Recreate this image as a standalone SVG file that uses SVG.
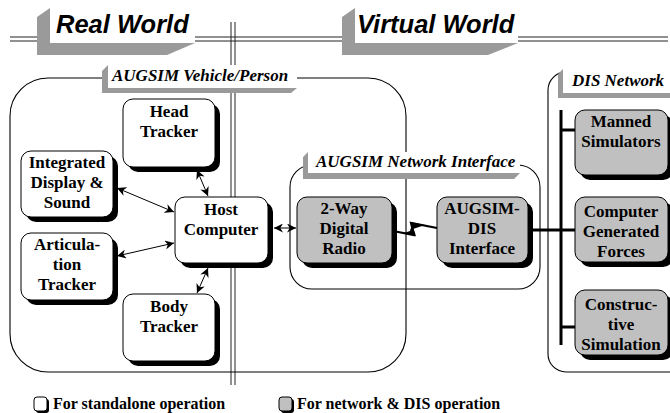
<svg xmlns="http://www.w3.org/2000/svg" width="670" height="413" viewBox="0 0 670 413">
<defs>
<style>
.ln{stroke:#222;stroke-width:1;fill:none}
.reg{stroke:#000;stroke-width:1.1;fill:none}
.ban{fill:#9a9a9a}
.banw{fill:#fff}
.h1{font-family:"Liberation Sans",Arial,sans-serif;font-weight:bold;font-style:italic;font-size:25.5px;fill:#000}
.lab{font-family:"Liberation Serif","Times New Roman",serif;font-weight:bold;font-style:italic;font-size:17px;fill:#000}
.bx{stroke:#000;stroke-width:1;fill:#fff}
.gx{stroke:#000;stroke-width:1;fill:#c0c0c0}
.sh{fill:#000}
.t{font-family:"Liberation Serif","Times New Roman",serif;font-weight:bold;font-size:17px;fill:#000;text-anchor:middle}
.lg{font-family:"Liberation Serif","Times New Roman",serif;font-weight:bold;font-size:16px;fill:#000}
.ar{stroke:#000;stroke-width:1;fill:none;marker-start:url(#ah);marker-end:url(#ah)}
.thick{stroke:#000;stroke-width:3;fill:none}
</style>
<marker id="ah" viewBox="0 0 10 10" refX="10" refY="5" markerWidth="9" markerHeight="9" markerUnits="userSpaceOnUse" orient="auto-start-reverse">
<path d="M0,0 L10,5 L0,10 L3,5 Z" fill="#000"/>
</marker>
</defs>

<g id="guides">
<line class="ln" x1="10" y1="37" x2="668" y2="37"/>
<line class="ln" x1="10" y1="41" x2="668" y2="41"/>
<line class="ln" x1="231" y1="22" x2="231" y2="385"/>
<line class="ln" x1="235" y1="22" x2="235" y2="385"/>
</g>

<g id="real-world">
<polygon class="ban" points="37,17 50,8 50,43 195,43 167,55 37,55"/>
<rect class="banw" x="50" y="8" width="145" height="35"/>
<text class="h1" x="56" y="33">Real World</text>
</g>
<g id="virtual-world">
<polygon class="ban" points="342,17 355,8 355,43 518,43 488,55 342,55"/>
<rect class="banw" x="355" y="8" width="163" height="35"/>
<text class="h1" x="357" y="33">Virtual World</text>
</g>

<g id="vehicle-region">
<rect class="reg" x="10" y="78" width="396" height="294" rx="38"/>
<polygon class="ban" points="102,71 108,65 108,88 297,88 291,93 102,93"/>
<rect class="banw" x="108" y="65" width="189" height="23"/>
<text class="lab" x="112" y="81">AUGSIM Vehicle/Person</text>
</g>

<g id="network-interface-region">
<rect class="reg" x="290" y="165" width="250" height="124" rx="22"/>
<polygon class="ban" points="303,157 308,152 308,173 520,173 514,179 303,179"/>
<rect class="banw" x="308" y="152" width="212" height="21"/>
<text class="lab" x="316" y="167">AUGSIM Network Interface</text>
</g>

<g id="dis-region">
<rect class="reg" x="548" y="72" width="140" height="300" rx="18"/>
<polygon class="ban" points="558,74 563,69 563,93 670,93 670,98 558,98"/>
<rect class="banw" x="563" y="69" width="107" height="24"/>
<text class="lab" x="572" y="86">DIS Network</text>
</g>

<g id="connectors">
<line class="ar" x1="197" y1="170" x2="208" y2="196"/>
<line class="ar" x1="117" y1="188" x2="174" y2="212"/>
<line class="ar" x1="117" y1="256" x2="174" y2="243"/>
<line class="ar" x1="197" y1="293" x2="208" y2="268"/>
<line class="ar" x1="274" y1="228" x2="296" y2="228"/>
<polyline points="393,231 414,235 411,223 437,228" stroke="#000" stroke-width="2.2" fill="none" stroke-linejoin="miter"/>
<polygon points="404,233 416,236 412,224 410,231" fill="#000"/>
<polygon points="410,222 425,225 413,229" fill="#000"/>
<line class="thick" x1="533" y1="230" x2="561" y2="230"/>
<line class="thick" x1="561" y1="110" x2="561" y2="345"/>
<line class="thick" x1="561" y1="130" x2="575" y2="130"/>
<line class="thick" x1="561" y1="230" x2="575" y2="230"/>
<line class="thick" x1="561" y1="327" x2="575" y2="327"/>
</g>

<g id="head-tracker">
<rect class="sh" x="128" y="104" width="92" height="68" rx="10"/>
<rect class="bx" x="123" y="99" width="92" height="68" rx="10"/>
<text class="t" x="169" y="117">Head</text>
<text class="t" x="169" y="137">Tracker</text>
</g>
<g id="integrated-display">
<rect class="sh" x="26" y="156" width="92" height="66" rx="10"/>
<rect class="bx" x="21" y="151" width="92" height="66" rx="10"/>
<text class="t" x="67" y="168">Integrated</text>
<text class="t" x="67" y="188">Display &amp;</text>
<text class="t" x="67" y="208">Sound</text>
</g>
<g id="host-computer">
<rect class="sh" x="180" y="202" width="93" height="66" rx="10"/>
<rect class="bx" x="175" y="197" width="93" height="66" rx="10"/>
<text class="t" x="221" y="215">Host</text>
<text class="t" x="221" y="235">Computer</text>
</g>
<g id="articulation-tracker">
<rect class="sh" x="26" y="238" width="92" height="67" rx="10"/>
<rect class="bx" x="21" y="233" width="92" height="67" rx="10"/>
<text class="t" x="67" y="250">Articula-</text>
<text class="t" x="67" y="270">tion</text>
<text class="t" x="67" y="290">Tracker</text>
</g>
<g id="body-tracker">
<rect class="sh" x="128" y="299" width="92" height="67" rx="10"/>
<rect class="bx" x="123" y="294" width="92" height="67" rx="10"/>
<text class="t" x="169" y="312">Body</text>
<text class="t" x="169" y="332">Tracker</text>
</g>
<g id="digital-radio">
<rect class="sh" x="302" y="202" width="95" height="66" rx="10"/>
<rect class="gx" x="297" y="197" width="95" height="66" rx="10"/>
<text class="t" x="344" y="214">2-Way</text>
<text class="t" x="344" y="234">Digital</text>
<text class="t" x="344" y="254">Radio</text>
</g>
<g id="augsim-dis">
<rect class="sh" x="442" y="202" width="91" height="66" rx="10"/>
<rect class="gx" x="437" y="197" width="91" height="66" rx="10"/>
<text class="t" x="482" y="214">AUGSIM-</text>
<text class="t" x="482" y="234">DIS</text>
<text class="t" x="482" y="254">Interface</text>
</g>
<g id="manned-simulators">
<rect class="sh" x="580" y="115" width="93" height="65" rx="10"/>
<rect class="gx" x="575" y="110" width="93" height="65" rx="10"/>
<text class="t" x="621" y="127">Manned</text>
<text class="t" x="621" y="147">Simulators</text>
</g>
<g id="cgf">
<rect class="sh" x="580" y="202" width="93" height="65" rx="10"/>
<rect class="gx" x="575" y="197" width="93" height="65" rx="10"/>
<text class="t" x="621" y="217">Computer</text>
<text class="t" x="621" y="237">Generated</text>
<text class="t" x="621" y="257">Forces</text>
</g>
<g id="constructive-simulation">
<rect class="sh" x="580" y="295" width="93" height="65" rx="10"/>
<rect class="gx" x="575" y="290" width="93" height="65" rx="10"/>
<text class="t" x="621" y="310">Construc-</text>
<text class="t" x="621" y="330">tive</text>
<text class="t" x="621" y="350">Simulation</text>
</g>

<g id="legend">
<rect class="sh" x="36" y="399" width="13" height="14" rx="3"/>
<rect class="bx" x="34" y="397" width="13" height="14" rx="3"/>
<text class="lg" x="53" y="409">For standalone operation</text>
<rect class="sh" x="281" y="399" width="13" height="14" rx="3"/>
<rect class="gx" x="279" y="397" width="13" height="14" rx="3"/>
<text class="lg" x="297" y="409">For network &amp; DIS operation</text>
</g>
</svg>
